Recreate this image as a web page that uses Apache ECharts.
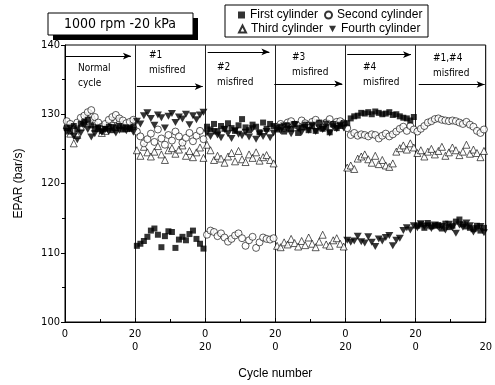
<!DOCTYPE html>
<html>
<head>
<meta charset="utf-8">
<script src="https://cdn.jsdelivr.net/npm/echarts@6/dist/echarts.min.js"></script>
<style>
html,body{margin:0;padding:0;background:#fff;}
#main{width:495px;height:385px;}
</style>
</head>
<body>
<div id="main"></div>
<script>
// 6 test segments, 20 cycles each: normal, #1, #2, #3, #4, #1+#4 misfired
var segNames = ['Normal\ncycle', '#1\nmisfired', '#2\nmisfired', '#3\nmisfired', '#4\nmisfired', '#1,#4\nmisfired'];
var xTickLabels = {0: '0', 20: '20\n0', 40: '0\n20', 60: '20\n0', 80: '0\n20', 100: '20\n0', 120: '\n20'};

var firstCyl = [
    [128.0,127.5,128.3,127.8,128.6,128.9,129.2,128.4,127.9,128.1,127.6,127.9,128.2,127.7,128.0,128.3,127.8,128.1,127.9,128.2],
    [111.0,111.3,111.7,112.3,113.2,113.5,112.6,110.8,112.4,113.1,113.0,110.7,111.9,112.3,111.8,112.7,113.2,112.0,111.3,110.6],
    [128.2,127.8,128.6,127.5,128.3,127.9,128.7,128.0,127.6,128.4,129.3,128.1,127.7,128.5,128.2,127.4,128.8,127.9,128.6,128.3],
    [127.8,128.2,127.5,128.4,127.9,128.6,127.3,128.1,128.5,127.7,128.3,127.6,128.8,127.9,128.2,127.4,128.6,128.0,128.3,128.7],
    [128.7,129.4,129.7,129.8,130.2,130.1,130.3,130.0,130.4,130.2,130.0,130.1,130.3,129.9,130.0,129.7,129.5,129.4,129.1,129.6],
    [113.9,114.1,113.6,114.3,113.8,113.9,114.0,113.5,114.2,113.7,113.9,114.5,114.8,114.1,113.8,113.6,113.4,113.9,113.2,113.6]
];
var secondCyl = [
    [129.0,128.6,127.8,128.8,129.5,129.8,130.3,130.6,129.6,128.8,128.2,128.6,129.2,129.6,129.9,129.4,129.1,128.7,128.9,129.2],
    [127.5,126.8,125.8,126.4,127.2,126.0,127.8,126.5,125.6,127.0,126.2,127.5,126.8,125.9,126.6,127.3,126.1,126.9,127.6,126.4],
    [112.6,113.2,113.0,112.4,112.8,112.2,111.6,112.0,112.5,112.8,112.1,111.0,111.8,112.3,110.7,111.5,112.2,112.0,111.9,112.1],
    [128.2,128.6,128.0,128.8,129.0,128.5,128.3,129.1,128.7,128.4,128.9,129.2,128.6,128.1,128.8,129.3,128.5,128.9,129.0,128.7],
    [128.0,127.0,127.3,126.9,127.1,127.0,126.8,127.1,127.0,126.5,126.9,127.2,126.8,127.1,127.5,127.9,128.2,127.6,128.3,127.8],
    [127.5,127.9,128.3,128.8,129.0,129.3,129.4,129.2,129.1,129.0,129.1,129.0,128.8,128.6,128.9,128.5,128.2,127.6,127.3,127.8]
];
var thirdCyl = [
    [128.5,127.2,125.8,127.0,128.2,128.9,129.5,130.1,129.0,128.0,127.3,127.6,128.2,128.8,129.3,129.1,128.5,128.0,128.4,128.6],
    [124.8,124.0,125.3,124.5,123.9,124.6,125.4,124.2,123.4,124.8,125.1,124.3,124.9,125.5,124.0,124.7,123.8,124.5,125.2,123.7],
    [125.6,124.8,123.4,124.0,123.6,123.0,123.9,124.4,123.2,124.7,123.5,123.1,124.2,123.7,124.5,123.3,123.8,124.1,123.4,122.9],
    [111.0,110.8,111.5,111.2,112.0,111.4,110.9,111.7,111.1,112.2,111.3,110.8,111.6,112.6,111.2,111.0,111.8,112.1,111.3,110.9],
    [122.3,122.6,122.1,123.6,123.9,124.2,123.5,123.0,124.0,122.8,123.4,122.6,122.4,122.9,124.6,125.1,125.5,124.9,125.8,125.2],
    [124.4,124.8,123.9,124.6,125.0,124.2,124.7,125.3,124.0,124.5,125.2,124.8,124.1,124.6,125.6,124.3,124.9,124.4,123.8,124.7]
];
var fourthCyl = [
    [127.5,128.0,126.8,126.3,127.3,128.4,127.8,126.7,127.2,127.9,127.4,127.8,127.5,128.1,127.3,127.7,128.0,127.6,127.9,127.4],
    [129.0,128.6,129.8,130.2,129.4,128.4,129.9,129.5,128.0,129.7,130.1,128.8,129.6,129.3,130.0,128.5,129.8,129.2,129.9,130.3],
    [127.3,126.8,127.5,127.0,126.6,127.8,127.2,126.5,127.6,127.1,126.9,127.4,126.7,127.9,126.4,127.2,126.8,127.5,126.6,127.3],
    [128.0,127.6,128.3,127.8,127.2,128.5,127.9,127.4,128.1,127.7,128.4,127.5,128.0,127.8,128.6,127.3,128.2,127.9,128.4,128.0],
    [111.8,111.5,111.7,112.4,111.6,111.4,112.3,111.5,110.9,112.0,111.7,112.2,112.5,111.0,111.8,112.1,113.2,113.6,113.3,113.9],
    [113.6,114.2,113.8,113.9,113.5,114.0,113.7,113.8,113.3,114.1,113.6,112.8,114.0,113.7,114.3,113.9,113.0,113.5,113.8,112.9]
];

// arrows above each segment: [x start, x end, y level]
var arrows = [[0.0,18.8,138.4],[20.5,39.3,134.0],[40.7,58.3,139.0],[59.7,79.1,134.4],[80.5,98.7,138.6],[100.9,119.7,134.3]];
var notePos = [[78,61],[149,48],[217,60],[292,50],[363,60],[433,51]];

function toPoints(segs){
    var pts = [];
    segs.forEach(function(seg, s){
        seg.forEach(function(v, i){
            pts.push([s*20 + i + 0.5, v]);
        });
    });
    return pts;
}

var font = '"DejaVu Sans Condensed","Liberation Sans",Arial,sans-serif';
var downTri = 'path://M0,0L10,0L5,9Z';

var myChart = echarts.init(document.getElementById('main'));

var graphics = [
    {type:'rect', shape:{x:53,y:18,width:145,height:22}, style:{fill:'#000'}},
    {type:'rect', shape:{x:48,y:13,width:145,height:22}, style:{fill:'#fff',stroke:'#000',lineWidth:1}},
    {type:'text', left:64, top:17, style:{text:'1000 rpm -20 kPa', font:'14px ' + font, fill:'#000'}},
    {type:'rect', shape:{x:225,y:5,width:203,height:32}, style:{fill:'#fff',stroke:'#000',lineWidth:1}, z:-1}
];
segNames.forEach(function(t, i){
    graphics.push({type:'text', left:notePos[i][0], top:notePos[i][1],
        style:{text:t, font:'10px ' + font, fill:'#000', lineHeight:15}});
});

option = {
    animation: false,
    backgroundColor: '#fff',
    grid: {left:65, right:3, top:45, bottom:60, show:true, borderColor:'#000', borderWidth:1},
    legend: [
        {data:['First cylinder','Second cylinder'], left:238, top:9, itemWidth:7, itemHeight:7, itemGap:6, padding:0,
         textStyle:{fontSize:12, fontFamily:'Liberation Sans, Arial', color:'#000'}},
        {data:['Third cylinder','Fourth cylinder'], left:238, top:23, itemWidth:7, itemHeight:7, itemGap:6, padding:0,
         textStyle:{fontSize:12, fontFamily:'Liberation Sans, Arial', color:'#000'}}
    ],
    graphic: graphics,
    xAxis: {
        type:'value', min:0, max:120, interval:20,
        name:'Cycle number', nameLocation:'middle', nameGap:46,
        nameTextStyle:{fontSize:12, fontFamily:'Liberation Sans, Arial', color:'#000'},
        axisLine:{lineStyle:{color:'#000'}},
        axisTick:{inside:true, length:4, lineStyle:{color:'#000'}},
        minorTick:{show:true, splitNumber:2, length:3, lineStyle:{color:'#000'}},
        splitLine:{show:true, lineStyle:{color:'#222', width:1}},
        axisLabel:{color:'#000', fontSize:11, fontFamily:font, lineHeight:13, margin:6,
            formatter:function(v){ return xTickLabels[v] !== undefined ? xTickLabels[v] : ''; }}
    },
    yAxis: {
        type:'value', min:100, max:140, interval:10,
        name:'EPAR (bar/s)', nameLocation:'middle', nameGap:40,
        nameTextStyle:{fontSize:12, fontFamily:'Liberation Sans, Arial', color:'#000'},
        axisLine:{show:true, lineStyle:{color:'#000'}},
        axisTick:{show:true, length:4, lineStyle:{color:'#000'}},
        minorTick:{show:true, splitNumber:2, length:3, lineStyle:{color:'#000'}},
        splitLine:{show:false},
        axisLabel:{color:'#000', fontSize:11, fontFamily:font, margin:5}
    },
    series: [
        {name:'Third cylinder', type:'scatter', symbol:'triangle', symbolSize:7,
         itemStyle:{color:'#fff', borderColor:'#000', borderWidth:0.8}, data:toPoints(thirdCyl)},
        {name:'Second cylinder', type:'scatter', symbol:'circle', symbolSize:7,
         itemStyle:{color:'#fff', borderColor:'#000', borderWidth:0.8}, data:toPoints(secondCyl)},
        {name:'Fourth cylinder', type:'scatter', symbol:downTri, symbolSize:[8,7],
         itemStyle:{color:'#000'}, data:toPoints(fourthCyl)},
        {name:'First cylinder', type:'scatter', symbol:'rect', symbolSize:6,
         itemStyle:{color:'#000'}, data:toPoints(firstCyl),
         markLine:{
             silent:true, symbol:['none','arrow'], symbolSize:[5,8],
             label:{show:false},
             lineStyle:{color:'#000', width:1, type:'solid'},
             data:arrows.map(function(a){ return [{coord:[a[0],a[2]]},{coord:[a[1],a[2]]}]; })
         }}
    ]
};
myChart.setOption(option);
</script>
</body>
</html>
